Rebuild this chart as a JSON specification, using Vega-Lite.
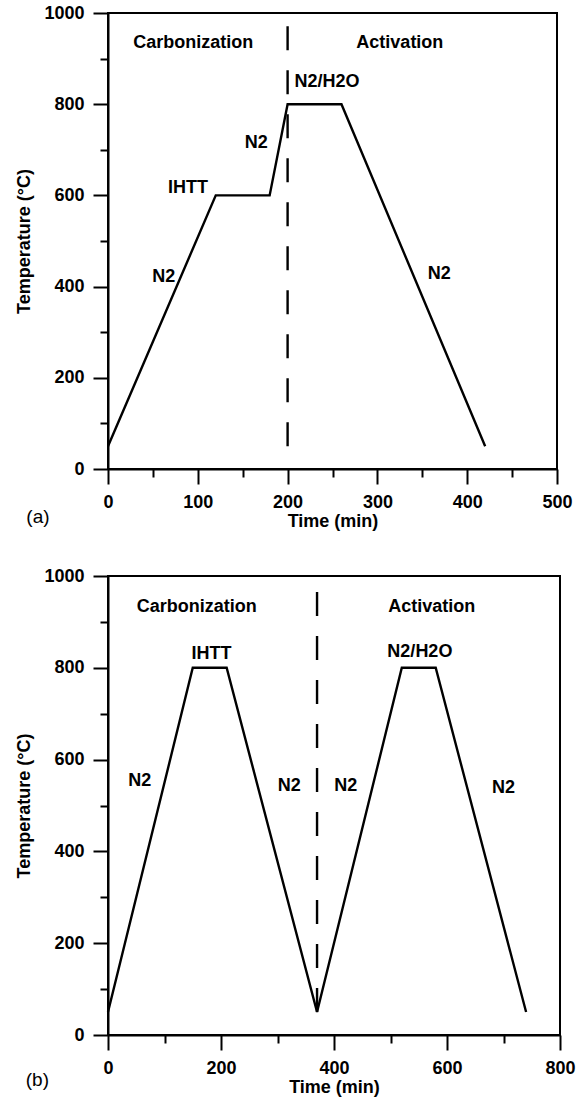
{
  "$schema": "https://vega.github.io/schema/vega-lite/v6.json",
  "background": "white",
  "padding": {"left": 14, "top": 3, "right": 20, "bottom": 5},
  "spacing": 35,
  "config": {
    "view": {"stroke": "black", "strokeWidth": 2},
    "axis": {
      "domainColor": "black", "domainWidth": 2,
      "tickColor": "black", "tickWidth": 2,
      "labelFont": "Liberation Sans", "labelFontWeight": "bold", "labelFontSize": 18, "labelColor": "black",
      "titleFont": "Liberation Sans", "titleFontWeight": "bold", "titleFontSize": 18, "titleColor": "black",
      "grid": false, "labelPadding": 9, "labelFlush": false, "labelOverlap": false, "format": "d"
    },
    "axisX": {"titlePadding": 1},
    "axisY": {"titlePadding": 10}
  },
  "datasets": {
    "lineA": [
      {"time": 0, "temp": 50}, {"time": 120, "temp": 600}, {"time": 180, "temp": 600},
      {"time": 200, "temp": 800}, {"time": 260, "temp": 800}, {"time": 420, "temp": 50}
    ],
    "lineB": [
      {"time": 0, "temp": 50}, {"time": 150, "temp": 800}, {"time": 210, "temp": 800},
      {"time": 370, "temp": 50}, {"time": 520, "temp": 800}, {"time": 580, "temp": 800},
      {"time": 740, "temp": 50}
    ],
    "dashA": [{"time": 200, "temp": 50, "temp2": 1000}],
    "dashB": [{"time": 370, "temp": 50, "temp2": 1000}],
    "textA": [
      {"time": 95, "temp": 935, "label": "Carbonization"},
      {"time": 325, "temp": 935, "label": "Activation"},
      {"time": 89, "temp": 616, "label": "IHTT"},
      {"time": 165, "temp": 715, "label": "N2"},
      {"time": 244, "temp": 849, "label": "N2/H2O"},
      {"time": 369, "temp": 427, "label": "N2"},
      {"time": 62, "temp": 421, "label": "N2"}
    ],
    "textB": [
      {"time": 157, "temp": 932, "label": "Carbonization"},
      {"time": 573, "temp": 932, "label": "Activation"},
      {"time": 183, "temp": 831, "label": "IHTT"},
      {"time": 552, "temp": 834, "label": "N2/H2O"},
      {"time": 56, "temp": 554, "label": "N2"},
      {"time": 321, "temp": 543, "label": "N2"},
      {"time": 421, "temp": 543, "label": "N2"},
      {"time": 700, "temp": 539, "label": "N2"}
    ],
    "panelA": [{"time": -78, "temp": -106, "label": "(a)"}],
    "panelB": [{"time": -125, "temp": -97, "label": "(b)"}]
  },
  "vconcat": [
    {
      "width": 449,
      "height": 456,
      "layer": [
        {
          "data": {"name": "lineA"},
          "mark": {"type": "line", "color": "black", "strokeWidth": 2.4},
          "encoding": {
            "x": {
              "field": "time", "type": "quantitative",
              "scale": {"domain": [0, 500], "nice": false, "zero": false},
              "axis": {
                "title": "Time (min)",
                "values": [0, 50, 100, 150, 200, 250, 300, 350, 400, 450, 500],
                "labelExpr": "datum.value % 100 === 0 ? datum.label : ''",
                "tickSize": {"condition": {"test": "datum.value % 100 === 0", "value": 15}, "value": 8}
              }
            },
            "y": {
              "field": "temp", "type": "quantitative",
              "scale": {"domain": [0, 1000], "nice": false, "zero": false},
              "axis": {
                "title": "Temperature (°C)",
                "values": [0, 100, 200, 300, 400, 500, 600, 700, 800, 900, 1000],
                "labelExpr": "datum.value % 200 === 0 ? datum.label : ''",
                "tickSize": {"condition": {"test": "datum.value % 200 === 0", "value": 15}, "value": 8}
              }
            }
          }
        },
        {
          "data": {"name": "dashA"},
          "mark": {"type": "rule", "color": "black", "strokeWidth": 2.4, "strokeDash": [24, 20]},
          "encoding": {
            "x": {"field": "time", "type": "quantitative", "scale": {"domain": [0, 500], "nice": false, "zero": false}},
            "y": {"field": "temp", "type": "quantitative", "scale": {"domain": [0, 1000], "nice": false, "zero": false}},
            "y2": {"field": "temp2"}
          }
        },
        {
          "data": {"name": "textA"},
          "mark": {"type": "text", "font": "Liberation Sans", "fontWeight": "bold", "fontSize": 18, "color": "black", "align": "center", "baseline": "middle"},
          "encoding": {
            "x": {"field": "time", "type": "quantitative", "scale": {"domain": [0, 500], "nice": false, "zero": false}},
            "y": {"field": "temp", "type": "quantitative", "scale": {"domain": [0, 1000], "nice": false, "zero": false}},
            "text": {"field": "label"}
          }
        },
        {
          "data": {"name": "panelA"},
          "mark": {"type": "text", "font": "Liberation Sans", "fontWeight": "normal", "fontSize": 19, "color": "black", "align": "center", "baseline": "middle", "clip": false},
          "encoding": {
            "x": {"field": "time", "type": "quantitative", "scale": {"domain": [0, 500], "nice": false, "zero": false}},
            "y": {"field": "temp", "type": "quantitative", "scale": {"domain": [0, 1000], "nice": false, "zero": false}},
            "text": {"field": "label"}
          }
        }
      ]
    },
    {
      "width": 452,
      "height": 459,
      "layer": [
        {
          "data": {"name": "lineB"},
          "mark": {"type": "line", "color": "black", "strokeWidth": 2.4},
          "encoding": {
            "x": {
              "field": "time", "type": "quantitative",
              "scale": {"domain": [0, 800], "nice": false, "zero": false},
              "axis": {
                "title": "Time (min)",
                "values": [0, 100, 200, 300, 400, 500, 600, 700, 800],
                "labelExpr": "datum.value % 200 === 0 ? datum.label : ''",
                "tickSize": {"condition": {"test": "datum.value % 200 === 0", "value": 15}, "value": 8}
              }
            },
            "y": {
              "field": "temp", "type": "quantitative",
              "scale": {"domain": [0, 1000], "nice": false, "zero": false},
              "axis": {
                "title": "Temperature (°C)",
                "values": [0, 100, 200, 300, 400, 500, 600, 700, 800, 900, 1000],
                "labelExpr": "datum.value % 200 === 0 ? datum.label : ''",
                "tickSize": {"condition": {"test": "datum.value % 200 === 0", "value": 15}, "value": 8}
              }
            }
          }
        },
        {
          "data": {"name": "dashB"},
          "mark": {"type": "rule", "color": "black", "strokeWidth": 2.4, "strokeDash": [24, 20]},
          "encoding": {
            "x": {"field": "time", "type": "quantitative", "scale": {"domain": [0, 800], "nice": false, "zero": false}},
            "y": {"field": "temp", "type": "quantitative", "scale": {"domain": [0, 1000], "nice": false, "zero": false}},
            "y2": {"field": "temp2"}
          }
        },
        {
          "data": {"name": "textB"},
          "mark": {"type": "text", "font": "Liberation Sans", "fontWeight": "bold", "fontSize": 18, "color": "black", "align": "center", "baseline": "middle"},
          "encoding": {
            "x": {"field": "time", "type": "quantitative", "scale": {"domain": [0, 800], "nice": false, "zero": false}},
            "y": {"field": "temp", "type": "quantitative", "scale": {"domain": [0, 1000], "nice": false, "zero": false}},
            "text": {"field": "label"}
          }
        },
        {
          "data": {"name": "panelB"},
          "mark": {"type": "text", "font": "Liberation Sans", "fontWeight": "normal", "fontSize": 19, "color": "black", "align": "center", "baseline": "middle", "clip": false},
          "encoding": {
            "x": {"field": "time", "type": "quantitative", "scale": {"domain": [0, 800], "nice": false, "zero": false}},
            "y": {"field": "temp", "type": "quantitative", "scale": {"domain": [0, 1000], "nice": false, "zero": false}},
            "text": {"field": "label"}
          }
        }
      ]
    }
  ]
}
